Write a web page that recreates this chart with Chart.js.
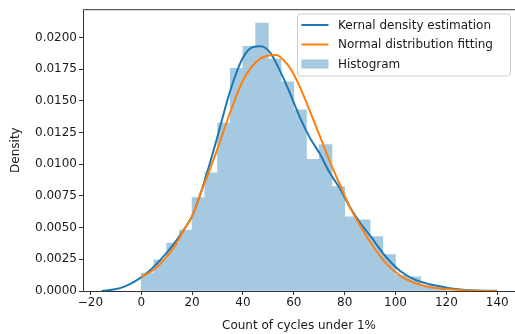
<!DOCTYPE html>
<html>
<head>
<meta charset="utf-8">
<script src="https://cdn.jsdelivr.net/npm/chart.js@4.4.0/dist/chart.umd.min.js"></script>
<style>
    html, body { margin: 0; padding: 0; overflow: hidden; background: #fff; }
    #wrap { position: absolute; left: 0; top: 0; width: 515px; height: 334px; }
</style>
</head>
<body>
<div id="wrap"><canvas id="chart" width="515" height="334"></canvas></div>
<script>
// Histogram bins (left edges, width 5) and their densities
const binEdges = [0, 5, 10, 15, 20, 25, 30, 35, 40, 45, 50, 55, 60, 65, 70, 75, 80, 85, 90, 95, 100, 105, 110, 115];
const binDensity = [0.00141, 0.00246, 0.00379, 0.00481, 0.00737, 0.00933, 0.01325, 0.01756, 0.01931, 0.02114,
    0.01829, 0.01651, 0.01429, 0.01038, 0.01155, 0.00823, 0.00585, 0.00562, 0.00429, 0.00288,
    0.00123, 0.00112, 0.00042, 0.00030];
const binWidth = 5;

// Kernel density curve
const kdeX = [-15.6, -10.3, -6.4, -2.5, 1.5, 5.4, 9.3, 13.3, 17, 20, 24, 29.6, 35, 40, 44, 47, 50.7, 54.5, 58.5,
    62.4, 66.3, 70.3, 74.2, 78.1, 82.1, 86, 89.9, 95.8, 101.7, 107.6, 113.5, 117.5, 122, 130, 140];
const kdeY = [0, 0.00013, 0.00037, 0.00076, 0.0013, 0.002, 0.00285, 0.00384, 0.0049, 0.0059, 0.0081, 0.0119,
    0.0158, 0.0184, 0.01925, 0.0193, 0.0188, 0.0174, 0.0156, 0.0137, 0.0121, 0.0108, 0.0093, 0.0081, 0.0066,
    0.0054, 0.0044, 0.0028, 0.0016, 0.0009, 0.00053, 0.00037, 0.0002, 0.00006, 0.00001];

// Fitted normal curve
const normX = [0, 5.4, 9.3, 13.3, 17, 20, 23, 29.6, 35, 40, 45.4, 50.6, 53.2, 56, 58.5, 62.4, 66.3, 70.3,
    74.2, 78.1, 82.1, 86, 89.9, 95.8, 101.7, 107.6, 113.5, 117.5, 125, 132, 140];
const normY = [0.00108, 0.00176, 0.00254, 0.00358, 0.0049, 0.0059, 0.0075, 0.011, 0.0141, 0.0166, 0.0181,
    0.0186, 0.01862, 0.0182, 0.0176, 0.0161, 0.0142, 0.0122, 0.0102, 0.0084, 0.0066, 0.0052, 0.0039, 0.0023,
    0.00123, 0.00063, 0.0003, 0.0002, 0.00008, 0.00002, 0];

const xTicks = [-20, 0, 20, 40, 60, 80, 100, 120, 140];
const yTicks = [0, 0.0025, 0.005, 0.0075, 0.01, 0.0125, 0.015, 0.0175, 0.02];

const BLUE = '#1f77b4';
const ORANGE = '#ff7f0e';
const HIST = '#a5c9e1'; // tab:blue at 40% over white, opaque so adjacent bars don't seam
const INK = '#1a1a1a';

Chart.defaults.font.family = "'DejaVu Sans', sans-serif";
Chart.defaults.font.size = 12;
Chart.defaults.color = INK;

// left/top/bottom spines + matplotlib style legend box
const frameAndLegend = {
    id: 'frameAndLegend',
    afterDraw(chart) {
        const { ctx, chartArea: a } = chart;
        ctx.save();
        // the axes run on past the right edge of the picture, so no right spine
        ctx.fillStyle = '#fff';
        ctx.fillRect(a.right - 3, a.top + 1, 3, a.bottom - a.top - 1);
        ctx.strokeStyle = '#333';
        ctx.lineWidth = 1;
        ctx.beginPath();
        ctx.moveTo(a.right, a.top + 0.5);
        ctx.lineTo(a.left + 0.5, a.top + 0.5);
        ctx.lineTo(a.left + 0.5, a.bottom + 0.5);
        ctx.lineTo(a.right, a.bottom + 0.5);
        ctx.stroke();

        const bx = a.right - 217.5, by = 14, bw = 213, bh = 62;
        ctx.beginPath();
        ctx.roundRect(bx, by, bw, bh, 3);
        ctx.fillStyle = 'rgba(255,255,255,0.8)';
        ctx.fill();
        ctx.strokeStyle = '#cccccc';
        ctx.stroke();

        const ds = chart.data.datasets;
        const ys = [25, 44.5, 64];
        ctx.font = "12px 'DejaVu Sans'";
        ctx.textBaseline = 'middle';
        ds.forEach((d, i) => {
            if (d.type === 'line') {
                ctx.strokeStyle = d.borderColor;
                ctx.lineWidth = 2;
                ctx.beginPath();
                ctx.moveTo(bx + 4, ys[i]);
                ctx.lineTo(bx + 31, ys[i]);
                ctx.stroke();
            } else {
                ctx.fillStyle = d.backgroundColor;
                ctx.fillRect(bx + 4, ys[i] - 4.5, 27, 9);
            }
            ctx.fillStyle = INK;
            ctx.fillText(d.label, bx + 40.5, ys[i] + 0.5);
        });
        ctx.restore();
    }
};

new Chart(document.getElementById('chart'), {
    type: 'bar',
    data: {
        datasets: [
            {
                type: 'line',
                label: 'Kernal density estimation',
                data: kdeX.map((x, i) => ({ x, y: kdeY[i] })),
                borderColor: BLUE,
                borderWidth: 2,
                pointRadius: 0,
                cubicInterpolationMode: 'monotone',
                order: 1
            },
            {
                type: 'line',
                label: 'Normal distribution fitting',
                data: normX.map((x, i) => ({ x, y: normY[i] })),
                borderColor: ORANGE,
                borderWidth: 2,
                pointRadius: 0,
                cubicInterpolationMode: 'monotone',
                order: 0
            },
            {
                type: 'bar',
                label: 'Histogram',
                data: binEdges.map((x, i) => ({ x: x + binWidth / 2, y: binDensity[i] })),
                backgroundColor: HIST,
                borderWidth: 0,
                barPercentage: 1,
                categoryPercentage: 1,
                order: 2
            }
        ]
    },
    options: {
        responsive: false,
        animation: false,
        layout: { padding: { left: 0, right: 0, top: 7, bottom: 0 } },
        plugins: { legend: { display: false }, tooltip: { enabled: false } },
        scales: {
            x: {
                type: 'linear',
                offset: false,
                min: -22.9,
                max: 147.0,
                afterBuildTicks: s => { s.ticks = xTicks.map(v => ({ value: v })); },
                afterFit: s => { s.height = 43; },
                ticks: {
                    autoSkip: false,
                    maxRotation: 0,
                    padding: 1,
                    callback: v => (v < 0 ? '\u2212' + Math.abs(v) : String(v))
                },
                grid: { drawOnChartArea: false, offset: false, tickLength: 4, tickColor: '#333', tickWidth: 1 },
                border: { display: false },
                title: { display: true, text: 'Count of cycles under 1%', padding: { top: 0, bottom: 1 } }
            },
            y: {
                min: 0,
                max: 0.02223,
                afterBuildTicks: s => { s.ticks = yTicks.map(v => ({ value: v })); },
                afterFit: s => { s.width = 83; },
                ticks: { padding: 2, callback: v => v.toFixed(4) },
                grid: { drawOnChartArea: false, tickLength: 4, tickColor: '#333', tickWidth: 1 },
                border: { display: false },
                title: { display: true, text: 'Density', padding: { top: 9, bottom: 0 } }
            }
        }
    },
    plugins: [frameAndLegend]
});
</script>
</body>
</html>
